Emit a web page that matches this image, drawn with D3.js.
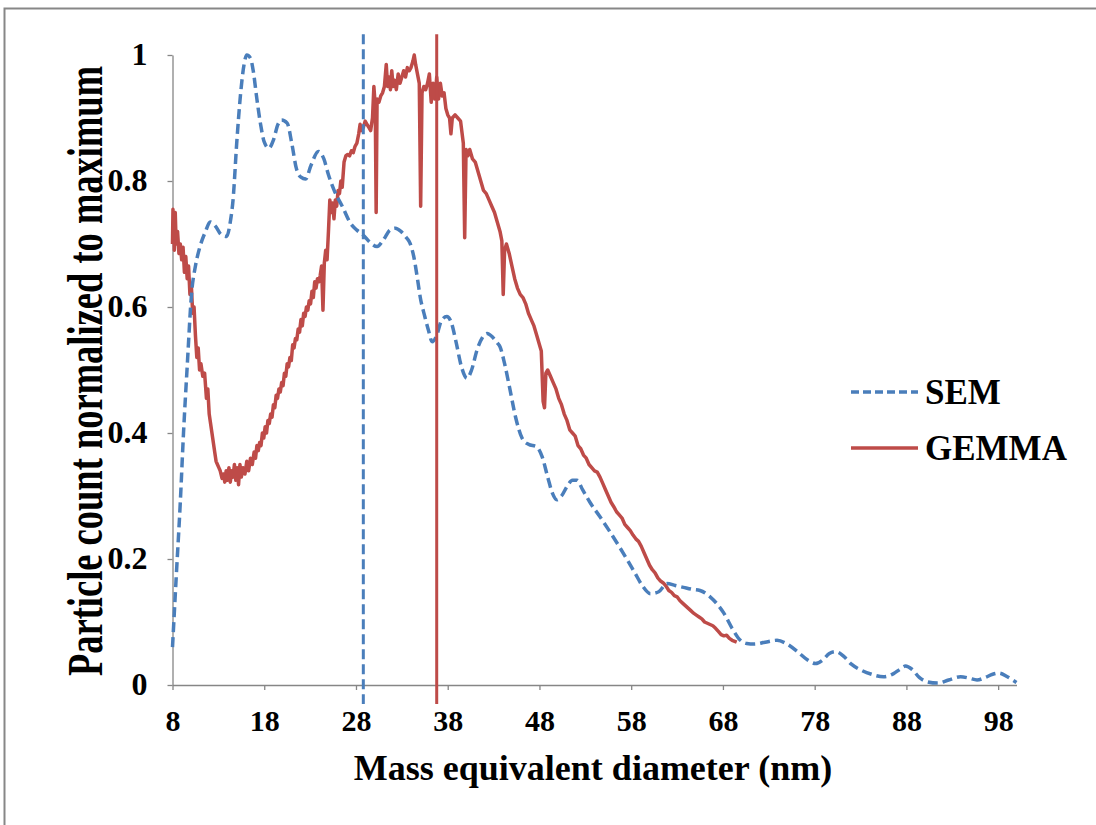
<!DOCTYPE html>
<html>
<head>
<meta charset="utf-8">
<script src="https://cdn.jsdelivr.net/npm/d3@7"></script>
<style>
  body { margin: 0; background: #fff; }
  svg { display: block; }
  .tick text { font-family: "Liberation Serif", "Times New Roman", serif; font-weight: bold; fill: #000; }
  .title { font-family: "Liberation Serif", "Times New Roman", serif; font-weight: bold; fill: #000; }
</style>
</head>
<body>
<svg id="chart" width="1096" height="825"></svg>
<script>
// Data --------------------------------------------------------------
const xTicks = [8, 18, 28, 38, 48, 58, 68, 78, 88, 98];
const yTicks = [0, 0.2, 0.4, 0.6, 0.8, 1];
const seriesNames = ["SEM", "GEMMA"];

// SEM size distribution (dashed), [diameter, normalized count]
const sem = [
  [8.0, 0.06], [8.4, 0.17], [8.85, 0.29], [9.2, 0.40], [9.6, 0.505], [10.1, 0.625], [10.5, 0.665],
  [11.0, 0.696], [11.6, 0.72], [12.1, 0.735], [12.7, 0.728], [13.3, 0.715], [13.9, 0.712], [14.3, 0.735],
  [14.6, 0.77], [15.0, 0.86], [15.4, 0.935], [15.8, 0.985], [16.1, 1.0], [16.5, 0.995], [16.8, 0.975],
  [17.2, 0.93], [17.6, 0.89], [18.0, 0.862], [18.5, 0.852], [19.0, 0.865], [19.5, 0.89], [19.9, 0.897],
  [20.5, 0.892], [21.0, 0.86], [21.5, 0.82], [22.0, 0.806], [22.5, 0.803], [23.1, 0.825], [23.9, 0.847],
  [24.5, 0.835], [25.0, 0.81], [25.6, 0.786], [26.5, 0.76], [27.4, 0.733], [28.1, 0.722], [28.8, 0.714],
  [29.5, 0.703], [30.3, 0.696], [31.0, 0.707], [31.7, 0.722], [32.3, 0.725], [32.9, 0.72], [33.5, 0.71],
  [33.9, 0.701], [34.3, 0.68], [34.7, 0.645], [35.0, 0.616], [35.5, 0.585], [35.9, 0.563], [36.3, 0.545],
  [36.8, 0.555], [37.3, 0.578], [37.9, 0.585], [38.4, 0.575], [38.9, 0.545], [39.5, 0.505], [40.1, 0.487],
  [40.6, 0.5], [41.2, 0.532], [41.8, 0.552], [42.3, 0.558], [42.9, 0.552], [43.4, 0.543], [43.7, 0.537],
  [44.2, 0.51], [44.8, 0.468], [45.4, 0.425], [46.1, 0.392], [46.8, 0.382], [47.7, 0.378], [48.3, 0.362],
  [48.9, 0.33], [49.4, 0.305], [49.9, 0.294], [50.4, 0.3], [51.0, 0.315], [51.6, 0.325], [52.1, 0.325],
  [52.7, 0.31], [53.5, 0.29], [54.6, 0.267], [55.6, 0.245], [56.6, 0.222], [57.6, 0.198], [58.4, 0.178],
  [59.2, 0.158], [60.1, 0.145], [61.0, 0.148], [61.9, 0.161], [62.8, 0.158], [63.7, 0.155], [64.6, 0.152],
  [65.5, 0.15], [66.6, 0.14], [67.4, 0.128], [68.1, 0.114], [69.0, 0.09], [69.9, 0.071], [70.6, 0.066],
  [71.4, 0.065], [72.6, 0.068], [73.9, 0.071], [75.0, 0.065], [76.2, 0.052], [77.2, 0.04], [78.1, 0.034],
  [78.9, 0.04], [79.6, 0.05], [80.3, 0.053], [81.2, 0.045], [82.0, 0.033], [83.0, 0.024], [84.2, 0.017],
  [85.5, 0.013], [86.6, 0.018], [87.3, 0.025], [87.9, 0.03], [88.6, 0.025], [89.4, 0.012], [90.3, 0.005],
  [91.4, 0.003], [92.6, 0.008], [93.9, 0.013], [94.8, 0.011], [95.7, 0.008], [96.6, 0.012], [97.4, 0.017],
  [98.1, 0.019], [99.0, 0.013], [100.0, 0.004]
];

// GEMMA size distribution (solid, noisy)
const gemma = [
  [8.0, 0.70], [8.05, 0.755], [8.15, 0.73], [8.2, 0.69], [8.3, 0.75], [8.4, 0.70], [8.55, 0.72],
  [8.7, 0.685], [8.85, 0.70], [9.0, 0.675], [9.15, 0.695], [9.3, 0.655], [9.45, 0.68], [9.6, 0.645],
  [9.75, 0.665], [9.9, 0.62], [10.05, 0.635], [10.2, 0.59], [10.35, 0.60], [10.5, 0.555], [10.65, 0.52],
  [10.8, 0.535], [10.95, 0.50], [11.1, 0.51], [11.3, 0.49], [11.5, 0.495], [11.7, 0.455], [11.85, 0.47],
  [12.0, 0.43], [12.15, 0.415], [12.3, 0.40], [12.45, 0.385], [12.6, 0.37], [12.75, 0.355], [12.9, 0.35],
  [13.05, 0.345], [13.2, 0.34], [13.4, 0.328], [13.55, 0.335], [13.7, 0.322], [13.85, 0.34], [14.0, 0.325],
  [14.15, 0.345], [14.3, 0.322], [14.45, 0.34], [14.6, 0.33], [14.75, 0.35], [14.9, 0.325], [15.05, 0.345],
  [15.2, 0.318], [15.35, 0.35], [15.5, 0.33], [15.7, 0.345], [15.9, 0.335], [16.1, 0.355], [16.3, 0.34],
  [16.5, 0.36], [16.7, 0.35], [16.9, 0.37], [17.05, 0.36], [17.2, 0.38], [17.35, 0.372], [17.5, 0.385],
  [17.65, 0.38], [17.8, 0.40], [17.95, 0.392], [18.1, 0.41], [18.25, 0.40], [18.4, 0.42], [18.55, 0.415],
  [18.7, 0.43], [18.85, 0.425], [19.0, 0.445], [19.15, 0.44], [19.3, 0.46], [19.45, 0.455], [19.6, 0.47],
  [19.75, 0.465], [19.9, 0.48], [20.05, 0.475], [20.2, 0.495], [20.35, 0.49], [20.5, 0.51], [20.65, 0.505],
  [20.8, 0.52], [20.95, 0.515], [21.1, 0.54], [21.25, 0.535], [21.4, 0.55], [21.55, 0.548], [21.7, 0.565],
  [21.85, 0.56], [22.0, 0.58], [22.15, 0.57], [22.3, 0.59], [22.45, 0.585], [22.6, 0.60], [22.75, 0.595],
  [22.9, 0.61], [23.05, 0.605], [23.2, 0.625], [23.35, 0.615], [23.5, 0.64], [23.65, 0.63], [23.8, 0.645],
  [23.95, 0.64], [24.1, 0.65], [24.25, 0.665], [24.4, 0.595], [24.55, 0.67],
  [24.7, 0.69], [24.85, 0.675], [25.0, 0.72], [25.15, 0.77], [25.3, 0.75], [25.45, 0.765], [25.6, 0.74],
  [25.75, 0.77], [25.9, 0.76], [26.05, 0.785], [26.2, 0.78], [26.35, 0.80], [26.5, 0.79], [26.7, 0.83],
  [26.9, 0.84], [27.1, 0.842], [27.3, 0.84], [27.5, 0.848], [27.7, 0.845], [27.9, 0.855], [28.1, 0.86],
  [28.3, 0.875], [28.45, 0.89], [28.6, 0.88], [28.8, 0.885], [29.0, 0.895], [29.2, 0.89], [29.4, 0.885],
  [29.6, 0.88], [29.8, 0.90], [29.95, 0.95], [30.1, 0.92], [30.2, 0.75], [30.3, 0.93], [30.5, 0.925],
  [30.7, 0.935], [30.9, 0.94], [31.1, 0.95], [31.3, 0.985], [31.45, 0.95], [31.6, 0.965], [31.75, 0.945],
  [31.9, 0.975], [32.05, 0.95], [32.2, 0.96], [32.4, 0.945], [32.6, 0.97], [32.8, 0.955], [33.0, 0.965],
  [33.2, 0.975], [33.4, 0.965], [33.6, 0.98], [33.8, 0.975], [34.0, 0.98], [34.2, 0.99], [34.35, 1.0],
  [34.5, 0.985], [34.7, 0.97], [34.9, 0.955], [35.05, 0.76], [35.2, 0.94], [35.4, 0.95], [35.6, 0.945],
  [35.8, 0.955], [36.0, 0.97], [36.2, 0.925], [36.4, 0.955], [36.6, 0.93], [36.8, 0.965], [37.0, 0.93],
  [37.2, 0.955], [37.4, 0.935], [37.6, 0.94], [37.8, 0.915], [38.0, 0.905], [38.2, 0.90], [38.35, 0.875],
  [38.5, 0.90], [38.8, 0.905], [39.1, 0.90], [39.4, 0.895], [39.7, 0.86], [39.85, 0.71], [40.0, 0.85],
  [40.2, 0.84], [40.4, 0.85], [40.7, 0.835], [41.0, 0.83], [41.3, 0.815], [41.6, 0.80], [41.9, 0.785],
  [42.2, 0.78], [42.5, 0.77], [42.8, 0.76], [43.1, 0.75], [43.4, 0.735], [43.7, 0.72], [43.9, 0.705],
  [44.05, 0.62], [44.2, 0.69], [44.4, 0.70], [44.7, 0.685], [45.0, 0.665], [45.3, 0.645], [45.6, 0.63],
  [45.9, 0.62], [46.2, 0.615], [46.5, 0.605], [46.8, 0.59], [47.1, 0.58], [47.4, 0.57], [47.7, 0.555],
  [48.0, 0.54], [48.2, 0.53], [48.4, 0.45], [48.55, 0.44], [48.7, 0.495], [48.9, 0.50], [49.2, 0.49],
  [49.5, 0.48], [49.8, 0.47], [50.1, 0.455], [50.4, 0.445], [50.7, 0.43], [51.0, 0.42], [51.3, 0.405],
  [51.6, 0.40], [51.9, 0.395], [52.2, 0.38], [52.5, 0.375], [52.8, 0.365], [53.1, 0.36], [53.4, 0.35],
  [53.7, 0.345], [54.0, 0.34], [54.3, 0.338], [54.6, 0.33], [54.9, 0.32], [55.2, 0.31], [55.5, 0.30],
  [55.8, 0.29], [56.1, 0.283], [56.4, 0.275], [56.7, 0.27], [57.0, 0.265], [57.3, 0.255], [57.6, 0.25],
  [57.9, 0.245], [58.2, 0.238], [58.5, 0.232], [58.8, 0.228], [59.1, 0.22], [59.4, 0.21], [59.7, 0.2],
  [60.0, 0.19], [60.3, 0.183], [60.6, 0.178], [60.9, 0.17], [61.2, 0.165], [61.5, 0.162], [61.8, 0.157],
  [62.1, 0.15], [62.4, 0.147], [62.7, 0.142], [63.0, 0.14], [63.3, 0.134], [63.6, 0.13], [63.9, 0.126],
  [64.2, 0.122], [64.5, 0.118], [64.8, 0.114], [65.1, 0.111], [65.4, 0.108], [65.7, 0.105], [66.0, 0.1],
  [66.3, 0.098], [66.6, 0.096], [66.9, 0.094], [67.2, 0.09], [67.5, 0.085], [67.8, 0.08], [68.1, 0.078],
  [68.4, 0.079], [68.7, 0.074], [69.0, 0.071], [69.5, 0.068]
];

// Mean diameters marked by vertical lines (SEM, GEMMA)
const markerX = [28.8, 36.8];
const markerSpan = [-0.03, 1.033];

const colors = { SEM: "#4a7ebb", GEMMA: "#be4b48" };

// Scales ------------------------------------------------------------
const svg = d3.select("#chart");
const x = d3.scaleLinear().domain([8, 100]).range([172.5, 1016.5]);
const y = d3.scaleLinear().domain([0, 1]).range([685, 55]);

svg.append("rect").attr("width", 1096).attr("height", 825).attr("fill", "#fff");

// chart border (cropped, only top and left show)
svg.append("path")
    .attr("d", "M4.5,825 V8.5 H1096")
    .attr("fill", "none")
    .attr("stroke", "#878787")
    .attr("stroke-width", 2);

// Axes --------------------------------------------------------------
const xAxis = svg.append("g")
    .attr("transform", `translate(0,${y(0)})`)
    .call(d3.axisBottom(x).tickValues(xTicks).tickSize(5).tickSizeOuter(0).tickPadding(20).tickFormat(d3.format("d")));

const yAxis = svg.append("g")
    .attr("transform", `translate(${x(8)},0)`)
    .call(d3.axisLeft(y).tickValues(yTicks).tickSize(5).tickSizeOuter(0).tickPadding(20).tickFormat(d => d));

[xAxis, yAxis].forEach(g => {
  g.selectAll("path.domain").attr("stroke", "#868686").attr("stroke-width", 1.3);
  g.selectAll(".tick line").attr("stroke", "#868686").attr("stroke-width", 1.3);
});
xAxis.selectAll(".tick text").style("font-size", "30px");
yAxis.selectAll(".tick text").style("font-size", "32px").attr("dy", "0.3em");

svg.append("text")
    .attr("class", "title")
    .attr("x", 593)
    .attr("y", 780)
    .attr("text-anchor", "middle")
    .style("font-size", "36px")
    .text("Mass equivalent diameter (nm)");

// y title looks condensed in the original: bigger glyphs, squeezed along the text
svg.append("text")
    .attr("class", "title")
    .attr("transform", "translate(102,371) rotate(-90) scale(0.73,1)")
    .attr("text-anchor", "middle")
    .style("font-size", "50px")
    .text("Particle count normalized to maximum");

// Lines -------------------------------------------------------------
const semLine = d3.line()
    .x(d => x(d[0]))
    .y(d => y(d[1]))
    .curve(d3.curveMonotoneX);

const gemmaLine = d3.line()
    .x(d => x(d[0]))
    .y(d => y(d[1]));

svg.append("path")
    .attr("d", gemmaLine(gemma))
    .attr("fill", "none")
    .attr("stroke", colors.GEMMA)
    .attr("stroke-width", 3.5)
    .attr("stroke-linejoin", "round");

svg.append("path")
    .attr("d", semLine(sem))
    .attr("fill", "none")
    .attr("stroke", colors.SEM)
    .attr("stroke-width", 3.5)
    .attr("stroke-dasharray", "10,5");

// vertical mean markers
svg.selectAll(".marker")
  .data(markerX)
  .enter()
  .append("line")
    .attr("class", "marker")
    .attr("x1", d => x(d))
    .attr("x2", d => x(d))
    .attr("y1", y(markerSpan[1]))
    .attr("y2", y(markerSpan[0]))
    .attr("stroke", (d, i) => colors[seriesNames[i]])
    .attr("stroke-width", 3)
    .attr("stroke-dasharray", (d, i) => i === 0 ? "10,5" : null);

// Legend ------------------------------------------------------------
const legend = svg.append("g");
seriesNames.forEach((name, i) => {
  const ly = 392 + i * 56;
  legend.append("line")
      .attr("x1", 851)
      .attr("x2", 918)
      .attr("y1", ly)
      .attr("y2", ly)
      .attr("stroke", colors[name])
      .attr("stroke-width", 3.5)
      .attr("stroke-dasharray", i === 0 ? "8,4" : null);
  legend.append("text")
      .attr("class", "title")
      .attr("x", 925)
      .attr("y", ly + 12)
      .style("font-size", "35px")
      .text(name);
});
</script>
</body>
</html>
